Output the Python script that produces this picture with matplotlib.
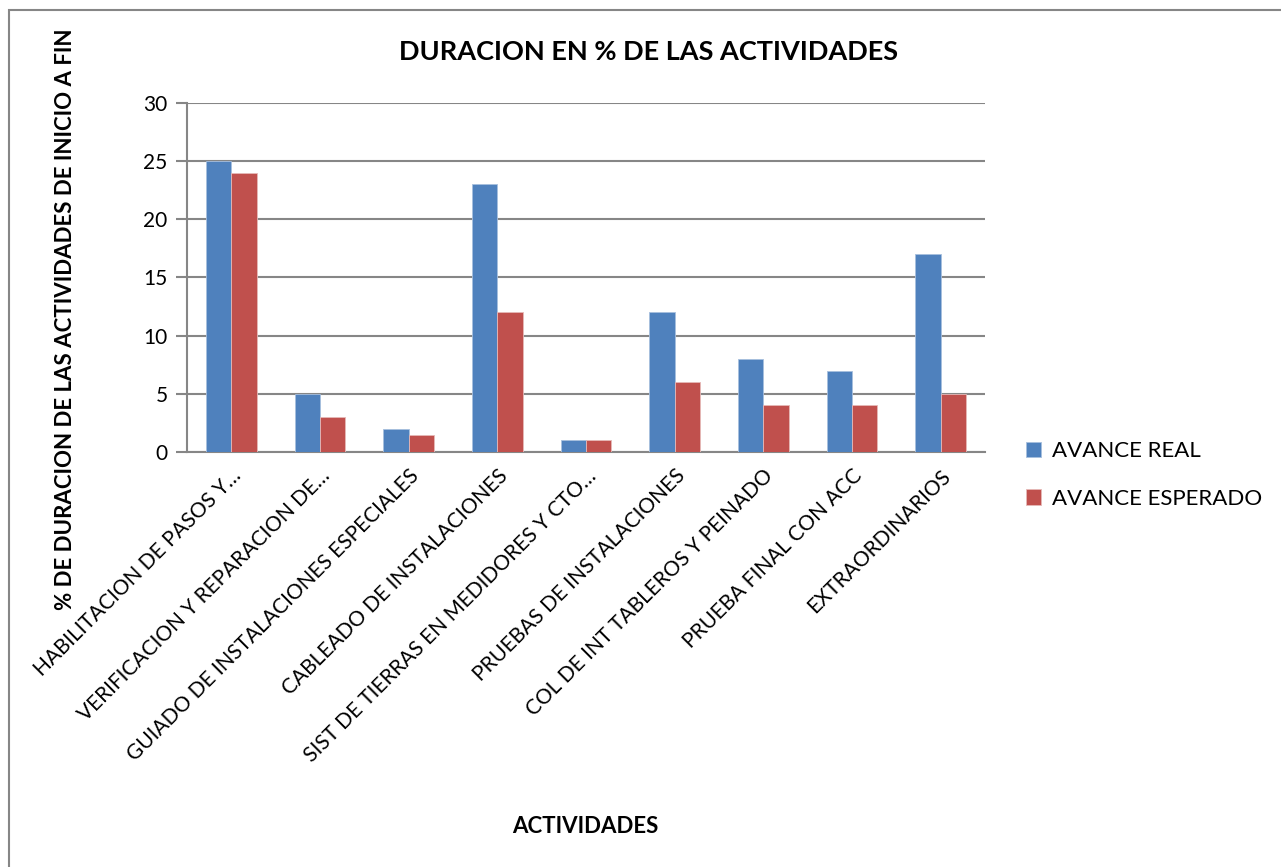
import numpy as np
import matplotlib

matplotlib.use("Agg")
import matplotlib.pyplot as plt
from matplotlib.patches import Rectangle

plt.rcParams['font.family'] = ['Lato', 'DejaVu Sans']

actividades = [
    "HABILITACION DE PASOS Y…",
    "VERIFICACION Y REPARACION DE…",
    "GUIADO DE INSTALACIONES ESPECIALES",
    "CABLEADO DE INSTALACIONES",
    "SIST DE TIERRAS EN MEDIDORES Y CTO…",
    "PRUEBAS DE INSTALACIONES",
    "COL DE INT TABLEROS Y PEINADO",
    "PRUEBA FINAL CON ACC",
    "EXTRAORDINARIOS",
]
avance_real = [25, 5, 2, 23, 1, 12, 8, 7, 17]
avance_esperado = [24, 3, 1.5, 12, 1, 6, 4, 4, 5]
y_ticks = [0, 5, 10, 15, 20, 25, 30]

azul = '#4F81BD'
rojo = '#C0504D'
gris = '#868686'

fig = plt.figure(figsize=(12.81, 8.67), dpi=100)
ax = fig.add_axes([187 / 1281, 0.4787, 798 / 1281, 0.4025])

x = np.arange(len(actividades))
w = 0.285
ax.bar(x - w / 2, avance_real, w, color=azul, edgecolor='#A7BFDE', linewidth=0.6,
       label='AVANCE REAL', zorder=3)
ax.bar(x + w / 2, avance_esperado, w, color=rojo, edgecolor='#E6B9B8', linewidth=0.6,
       label='AVANCE ESPERADO', zorder=3)

ax.set_xlim(-0.5, len(actividades) - 0.5)
ax.set_ylim(0, 30)
ax.set_yticks(y_ticks)
ax.yaxis.grid(True, color=gris, linewidth=1.5, zorder=0)
ax.set_axisbelow(True)

for s in ['top', 'right']:
    ax.spines[s].set_visible(False)
ax.spines['left'].set_color(gris)
ax.spines['left'].set_linewidth(1.5)
ax.spines['bottom'].set_color(gris)
ax.spines['bottom'].set_linewidth(1.5)
ax.tick_params(axis='y', length=8, width=1.5, color=gris, labelsize=15, pad=6)
ax.tick_params(axis='x', length=0, pad=10)

ax.set_xticks(x)
ax.set_xticklabels(actividades, rotation=45, ha='right', va='top',
                   rotation_mode='anchor', fontsize=15)

fig.text(0.506, 0.94, 'DURACION EN % DE LAS ACTIVIDADES', ha='center', va='center',
         fontsize=19.5, fontweight='bold')
fig.text(0.0515, 0.632, '% DE DURACION DE LAS ACTIVIDADES DE INICIO A FIN',
         rotation=90, ha='center', va='center', fontsize=16, fontweight='bold')
fig.text(0.457, 0.047, 'ACTIVIDADES', ha='center', va='center',
         fontsize=16, fontweight='bold')

fig.legend(loc='center left', bbox_to_anchor=(0.785, 0.452), frameon=False,
           fontsize=16, handlelength=0.7, handleheight=0.7, handletextpad=0.5,
           labelspacing=1.25)

# marco del grafico
fig.patches.append(Rectangle((9 / 1281, -0.1), 1.2, 1 - 10 / 867 + 0.1,
                             transform=fig.transFigure, fill=False,
                             edgecolor=gris, linewidth=1.5))

fig.savefig('out.png', dpi=100)
